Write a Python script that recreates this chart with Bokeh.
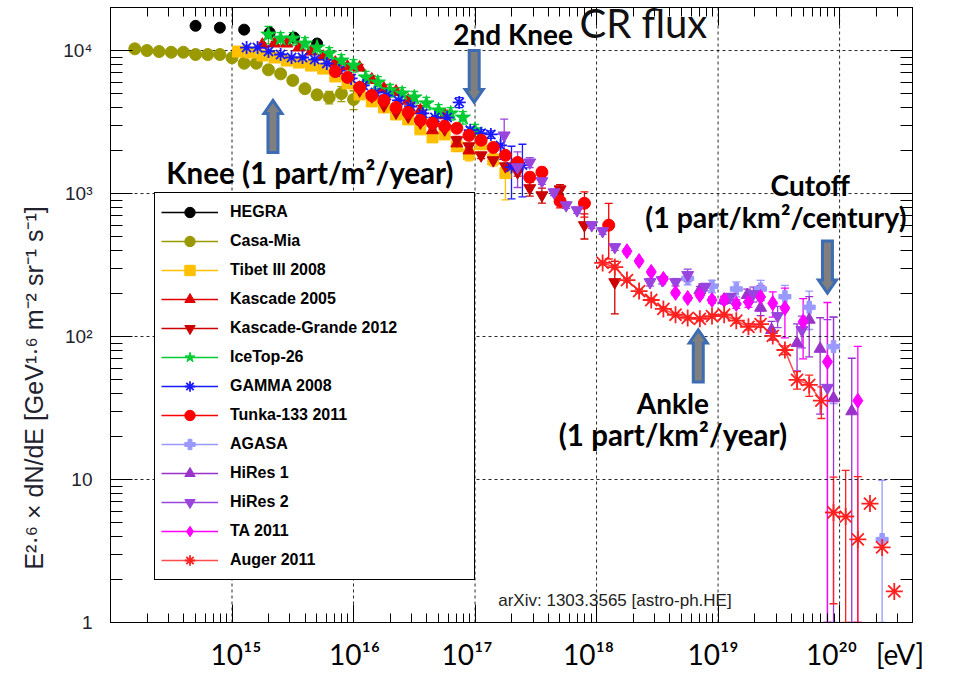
import math
from bokeh.plotting import figure
from bokeh.models import (Range1d, LogAxis, FixedTicker, Whisker, TeeHead, ColumnDataSource,
                          Legend, LegendItem, Label, CustomJSTickFormatter)
from bokeh.embed import file_html
from bokeh.resources import INLINE

# ---------------------------------------------------------------------------
# All-particle cosmic-ray spectrum, E^2.6 dN/dE  [GeV^1.6 m^-2 sr^-1 s^-1]
# energies are given as log10(E / eV)
# ---------------------------------------------------------------------------
hegra_lgE = [14.70, 14.90, 15.10, 15.31, 15.51, 15.70]
hegra_flux = [14900, 14450, 14000, 13350, 12330, 11200]
hegra_err = [0, 0, 0, 0, 0, 0]

casamia_lgE = [14.2, 14.3, 14.4, 14.5, 14.6, 14.7, 14.8, 14.9, 15.0, 15.1,
               15.2, 15.3, 15.4, 15.5, 15.6, 15.7, 15.8, 15.9, 16.0]
casamia_flux = [10280, 10000, 9840, 9730, 9730, 9380, 9380, 9380, 8890, 8150,
                8150, 7330, 6870, 6180, 5410, 4900, 4700, 5000, 4550]
casamia_err = [0, 0, 0, 0, 0, 0, 0, 0, 0, 0, 0, 0, 0, 0, 0.04, 0.075, 0.10, 0.12, 0.15]

tibet_lgE = [15.05, 15.15, 15.25, 15.35, 15.45, 15.55, 15.65, 15.75, 15.85, 15.95, 16.05, 16.15,
             16.25, 16.35, 16.45, 16.55, 16.65, 16.75, 16.85, 16.95, 17.05, 17.15, 17.25]
tibet_flux = [9840, 9680, 9230, 8940, 8510, 8240, 7850, 7480, 6590, 5890, 4930, 4410,
              4000, 3570, 3300, 2810, 2470, 2590, 2140, 1880, 2210, 1730, 1390]
tibet_err = [0.02, 0.02, 0.02, 0.02, 0.02, 0.02, 0.02, 0.02, 0.02, 0.02, 0.02, 0.02,
             0.02, 0.02, 0.02, 0.04, 0.05, 0.05, 0.08, 0.10, 0.07, 0.10, 0.35]

kascade_lgE = [15.25, 15.35, 15.45, 15.55, 15.65, 15.75, 15.85, 15.95, 16.05,
               16.15, 16.25, 16.35, 16.45, 16.55, 16.65, 16.75, 16.85, 16.95]
kascade_flux = [11000, 11190, 11190, 10490, 9840, 9080, 8240, 7720, 7610,
                6280, 5430, 5170, 4480, 3810, 2770, 3520, 2240, 2000]
kascade_err = [0.03, 0.03, 0.03, 0.03, 0.03, 0.03, 0.03, 0.03, 0.05,
               0.06, 0.06, 0.06, 0.07, 0.08, 0.10, 0.09, 0.12, 0.12]

kg_lgE = [16.05, 16.15, 16.25, 16.35, 16.45, 16.55, 16.65, 16.75, 16.85, 16.95,
          17.05, 17.15, 17.25, 17.35, 17.45, 17.55, 17.70, 17.90, 18.15]
kg_flux = [5260, 4780, 4130, 3690, 3460, 3140, 2950, 2810, 2360, 2140,
           1850, 1710, 1550, 1410, 1090, 973, 1070, 601, 240]
kg_err = [0.03, 0.03, 0.03, 0.03, 0.03, 0.03, 0.03, 0.03, 0.03, 0.03,
          0.05, 0.05, 0.05, 0.06, 0.12, 0.12, 0.08, 0.20, 0.40]

icetop_lgE = [15.3, 15.4, 15.5, 15.6, 15.7, 15.8, 15.9, 16.0, 16.1,
              16.2, 16.3, 16.4, 16.5, 16.6, 16.7, 16.8, 16.9, 17.0]
icetop_flux = [12930, 12130, 12130, 11190, 10490, 9530, 8510, 7850, 6490,
               5980, 5260, 5010, 4700, 4270, 3810, 3630, 3400, 2770]
icetop_err = [0.14, 0.10, 0.10, 0.10, 0.10, 0.10, 0.10, 0.10, 0.10,
              0.10, 0.10, 0.10, 0.10, 0.10, 0.10, 0.10, 0.10, 0.10]

gamma_lgE = [15.12, 15.21, 15.30, 15.40, 15.49, 15.58, 15.68, 15.78, 15.88, 15.98, 16.08, 16.18, 16.27,
             16.37, 16.47, 16.57, 16.67, 16.77, 16.87, 16.96, 17.05, 17.13, 17.21, 17.30, 17.39]
gamma_flux = [10490, 10490, 9840, 9380, 8940, 8940, 8650, 8110, 7240, 6380, 5700, 5090, 4850,
              4480, 4060, 3630, 3400, 3400, 4340, 2770, 2640, 2590, 2170, 1530, 1580]
gamma_err = [0.02, 0.02, 0.02, 0.02, 0.02, 0.02, 0.02, 0.02, 0.02, 0.02, 0.02, 0.02, 0.02,
             0.02, 0.02, 0.02, 0.02, 0.02, 0.08, 0.05, 0.06, 0.06, 0.20, 0.40, 0.40]

tunka_lgE = [15.85, 15.95, 16.05, 16.15, 16.25, 16.35, 16.45, 16.55, 16.65, 16.75, 16.85,
             16.95, 17.05, 17.15, 17.25, 17.35, 17.45, 17.55, 17.70, 17.90, 18.10]
tunka_flux = [7130, 6490, 5520, 4850, 4480, 4000, 3690, 3250, 3100, 2950, 2860,
              2550, 2360, 2100, 1850, 1650, 1300, 1410, 883, 855, 601]
tunka_err = [0.04, 0.04, 0.04, 0.04, 0.04, 0.04, 0.04, 0.04, 0.04, 0.04, 0.04,
             0.04, 0.04, 0.05, 0.05, 0.06, 0.08, 0.08, 0.10, 0.20, 0.42]

agasa_lgE = [18.75, 18.95, 19.15, 19.35, 19.55, 19.75, 19.95, 20.35]
agasa_flux = [255, 225, 215, 215, 190, 160, 85, 3.8]
agasa_err = [0.10, 0.10, 0.12, 0.15, 0.20, 0.30, 0.60, 1.60]

hires1_lgE = [18.85, 19.05, 19.24, 19.35, 19.44, 19.65, 19.75, 19.84, 19.95, 20.10]
hires1_flux = [211, 180, 195, 159, 111, 90, 131, 82, 37, 30]
hires1_err = [0.06, 0.06, 0.10, 0.12, 0.15, 0.36, 0.45, 0.65, 2.7, 1.35]

hires2_lgE = [17.24, 17.35, 17.45, 17.55, 17.65, 17.75, 17.84, 17.96, 18.05, 18.15,
              18.44, 18.54, 18.65, 18.75, 18.89, 19.10, 19.29, 19.49, 19.69, 19.90]
hires2_flux = [2550, 1530, 1650, 1220, 1020, 828, 764, 601, 546, 422,
               240, 248, 240, 269, 222, 189, 198, 139, 111, 43.8]
hires2_err = [0.30, 0.28, 0.08, 0.05, 0.05, 0.05, 0.05, 0.05, 0.05, 0.05,
              0.06, 0.06, 0.06, 0.10, 0.06, 0.06, 0.12, 0.17, 0.25, 2.0]

ta_lgE = [18.25, 18.35, 18.45, 18.55, 18.65, 18.75, 18.85, 18.95, 19.05,
          19.15, 19.25, 19.35, 19.45, 19.55, 19.70, 19.90, 20.15]
ta_flux = [395, 337, 283, 253, 202, 186, 195, 180, 180,
           169, 174, 189, 171, 158, 127, 66.5, 35.6]
ta_err = [0.04, 0.04, 0.04, 0.04, 0.04, 0.04, 0.04, 0.05, 0.06,
          0.07, 0.08, 0.20, 0.20, 0.38, 0.45, 1.6, 1.4]

auger_lgE = [18.05, 18.15, 18.25, 18.35, 18.45, 18.55, 18.65, 18.75, 18.85, 18.95, 19.05, 19.15, 19.25,
             19.35, 19.45, 19.55, 19.65, 19.75, 19.85, 19.95, 20.05, 20.15, 20.25, 20.35, 20.45]
auger_flux = [327, 306, 248, 208, 180, 156, 142, 135, 133, 139, 142, 129, 117,
              122, 101, 80.5, 49.8, 45.9, 35.6, 5.88, 5.51, 3.81, 6.79, 3.35, 1.65]
auger_err = [0.03, 0.03, 0.03, 0.03, 0.03, 0.03, 0.03, 0.03, 0.03, 0.03, 0.03, 0.04, 0.05,
             0.05, 0.06, 0.07, 0.14, 0.17, 0.25, 0.77, 1.1, 1.75, 0, 0, 0]
auger_joined = 19   # the Auger points up to 10^19.85 eV are joined by a line

series = [
    ("HEGRA", hegra_lgE, hegra_flux, hegra_err, "circle", "black", 11),
    ("Casa-Mia", casamia_lgE, casamia_flux, casamia_err, "circle", "#9a9a00", 12),
    ("Tibet III 2008", tibet_lgE, tibet_flux, tibet_err, "square", "#ffc000", 11),
    ("Kascade 2005", kascade_lgE, kascade_flux, kascade_err, "triangle", "#e00000", 12),
    ("Kascade-Grande 2012", kg_lgE, kg_flux, kg_err, "inverted_triangle", "#cc0000", 12),
    ("IceTop-26", icetop_lgE, icetop_flux, icetop_err, "star", "#00cc33", 16),
    ("GAMMA 2008", gamma_lgE, gamma_flux, gamma_err, "asterisk", "#1a1aff", 13),
    ("Tunka-133 2011", tunka_lgE, tunka_flux, tunka_err, "circle", "#ff0000", 12),
    ("AGASA", agasa_lgE, agasa_flux, agasa_err, "plus", "#9999ff", 12),
    ("HiRes 1", hires1_lgE, hires1_flux, hires1_err, "triangle", "#9933cc", 12),
    ("HiRes 2", hires2_lgE, hires2_flux, hires2_err, "inverted_triangle", "#9944dd", 12),
    ("TA 2011", ta_lgE, ta_flux, ta_err, "diamond", "#ff00ff", 15),
    ("Auger 2011", auger_lgE, auger_flux, auger_err, "asterisk", "#ff2020", 17),
]

# axis decades; the energy labels are set slightly off their decade (px), [eV] sits at 10^20.5
x_decades = [15, 16, 17, 18, 19, 20]
x_label_shift = [4, 1, -8, -8, -5, -8]
ev_label_lgE = 20.497
y_title = "E²·⁶ × dN/dE [GeV¹·⁶ m⁻² sr⁻¹ s⁻¹]"

# annotations: (log10 E, log10 flux) of the arrow tips, +1 = pointing up
arrows = [(15.337, 3.651, +1), (16.993, 3.637, -1), (18.837, 2.046, +1), (19.900, 2.304, -1)]

# ---------------------------------------------------------------------------
W, H = 959, 680
BL, BR, BT, BB = 110, 47, 7, 58
LGX0, LGX1 = 14.0, 20.6
LGY0, LGY1 = 0.0, math.log10(2e4)

def pw(v):
    return float(10.0 ** v)

p = figure(width=W, height=H, x_axis_type="log", y_axis_type="log",
           x_range=Range1d(pw(LGX0), pw(LGX1)), y_range=Range1d(pw(LGY0), pw(LGY1)),
           output_backend="svg", toolbar_location=None,
           min_border_left=BL, min_border_right=BR, min_border_top=BT, min_border_bottom=BB)
p.background_fill_color = "white"
p.border_fill_color = "white"
p.outline_line_color = "black"
p.outline_line_width = 1
p.xgrid.grid_line_color = None
p.ygrid.grid_line_color = None

PX_X = (W - BL - BR) / (LGX1 - LGX0)
PX_Y = (H - BT - BB) / (LGY1 - LGY0)

x_major = [pw(k) for k in range(14, 21)]
x_minor = [m * pw(k) for k in range(14, 21) for m in range(2, 10)]
y_major = [pw(k) for k in range(0, 5)]
y_minor = [m * pw(k) for k in range(0, 5) for m in range(2, 10)]
xt = FixedTicker(ticks=x_major, minor_ticks=x_minor)
yt = FixedTicker(ticks=y_major, minor_ticks=y_minor)

SUP = "const sup = ['\u2070','\u00b9','\u00b2','\u00b3','\u2074','\u2075','\u2076','\u2077','\u2078','\u2079'];"
x_fmt = CustomJSTickFormatter(code=SUP + """
const e = Math.log10(tick);
if (e > 20.3) { return '[eV]'; }
const k = Math.round(e);
return '10' + String(k).split('').map((c) => sup[+c]).join('');
""")
y_fmt = CustomJSTickFormatter(code=SUP + """
const k = Math.round(Math.log10(tick));
if (k == 0) { return '1'; }
if (k == 1) { return '10'; }
return '10' + String(k).split('').map((c) => sup[+c]).join('');
""")

def tick_axis(ax, ticker, major, minor):
    ax.ticker = ticker
    ax.major_label_text_font_size = "1px"
    ax.major_label_text_alpha = 0
    ax.major_label_standoff = 0
    ax.axis_line_color = "black"
    ax.major_tick_in = major
    ax.major_tick_out = 0
    ax.minor_tick_in = minor
    ax.minor_tick_out = 0
    ax.major_tick_line_color = "black"
    ax.minor_tick_line_color = "black"

# bottom: tick marks, then a second axis carrying the energy labels
tick_axis(p.xaxis[0], xt, 18, 9)
xlab = LogAxis(ticker=FixedTicker(ticks=[pw(k + s / PX_X) for k, s in zip(x_decades, x_label_shift)]
                                  + [pw(ev_label_lgE)], minor_ticks=[]),
               formatter=x_fmt, axis_line_color=None, major_tick_line_color=None,
               minor_tick_line_color=None, major_tick_in=0, major_tick_out=0,
               major_label_standoff=14, major_label_text_font="Lato",
               major_label_text_font_size="28px", major_label_text_color="black")
p.add_layout(xlab, "below")

# left: ticks inside and the decade labels
yax = p.yaxis[0]
yax.ticker = yt
yax.formatter = y_fmt
yax.axis_line_color = "black"
yax.major_tick_in, yax.major_tick_out = 22, 0
yax.minor_tick_in, yax.minor_tick_out = 12, 0
yax.major_label_standoff = 18
yax.major_label_text_font = "Liberation Sans"
yax.major_label_text_font_size = "19px"
yax.major_label_text_color = "#22222e"
yax.axis_label = y_title + "\u00a0" * 21
yax.axis_label_standoff = 12
yax.axis_label_text_font = "Liberation Sans"
yax.axis_label_text_font_size = "25px"
yax.axis_label_text_font_style = "normal"
yax.axis_label_text_color = "#22222e"

top_ax = LogAxis()
right_ax = LogAxis()
tick_axis(top_ax, xt, 18, 9)
tick_axis(right_ax, yt, 22, 12)
p.add_layout(top_ax, "above")
p.add_layout(right_ax, "right")

# dashed decade grid
gx = [[pw(k), pw(k)] for k in x_decades]
gy = [[pw(LGY0), pw(LGY1)] for k in x_decades]
hx = [[pw(LGX0), pw(LGX1)] for k in range(1, 5)]
hy = [[pw(k), pw(k)] for k in range(1, 5)]
p.multi_line(gx + hx, gy + hy, line_color="black", line_dash="3 3", line_width=1, line_alpha=0.85)

# data: error bars, markers, legend entries
items = []
for name, lgE, flux, err, marker, color, size in series:
    E = [pw(v) for v in lgE]
    bx, lo, hi = [], [], []
    for e, f, r in zip(E, flux, err):
        if r > 0:
            bx.append(e)
            lo.append(max(f * (1 - r), pw(LGY0)))
            hi.append(f * (1 + r))
    if bx:
        wsrc = ColumnDataSource(dict(x=bx, lo=lo, hi=hi))
        p.add_layout(Whisker(source=wsrc, base="x", lower="lo", upper="hi", dimension="height",
                             line_color=color, line_width=1.3,
                             upper_head=TeeHead(size=8, line_color=color, line_width=1.3),
                             lower_head=TeeHead(size=8, line_color=color, line_width=1.3)))
    if name == "Auger 2011":
        line_r = p.line(E[:auger_joined], flux[:auger_joined], line_color=color, line_width=1.5, line_alpha=0.8)
    else:
        # a one-point line: draws nothing in the plot but gives the legend its line
        line_r = p.line(E[:1], flux[:1], line_color=color, line_width=1.5)
    lw = 1.8 if marker == "asterisk" else 1
    sc = p.scatter(E, flux, marker=marker, size=size, fill_color=color, line_color=color, line_width=lw)
    items.append(LegendItem(label=name, renderers=[line_r, sc]))

# fat arrows marking the spectral features
for lgx, lgy, d in arrows:
    shape = [(0, 0), (9, 13), (5, 13), (5, 52), (-5, 52), (-5, 13), (-9, 13)]
    xs = [pw(lgx + dx / PX_X) for dx, dd in shape]
    ys = [pw(lgy - d * dd / PX_Y) for dx, dd in shape]
    p.patch(xs, ys, fill_color="#7f7f7f", line_color="#3d6cb3", line_width=3, line_join="miter")

# legend
legend = Legend(items=items, location=(44, 42), orientation="vertical",
                glyph_width=57, glyph_height=26, label_height=26, spacing=3, padding=6,
                label_standoff=12, label_width=238,
                label_text_font="Liberation Sans", label_text_font_style="bold",
                label_text_font_size="16px", label_text_color="black",
                border_line_color="black", border_line_width=1, border_line_alpha=1,
                background_fill_color="white", background_fill_alpha=1, margin=0)
p.add_layout(legend, "center")

# titles and feature labels (anchored at the baseline centre of each text)
def note(lgx, lgy, txt, size, bold=True, font="Lato", align="center", color="black"):
    p.add_layout(Label(x=pw(lgx), y=pw(lgy), y_offset=0.42 * size, text=txt, text_align=align,
                       text_baseline="alphabetic", text_font=font, text_font_size=f"{size}px",
                       text_color=color, text_font_style="bold" if bold else "normal"))

note(18.385, 4.077, "CR flux", 40, bold=False, color="#111111")
note(17.313, 4.035, "2nd Knee", 28)
note(15.641, 3.058, "Knee (1 part/m²/year)", 29.5)
note(19.758, 2.974, "Cutoff", 28)
note(18.628, 1.453, "Ankle", 28)
note(18.628, 1.230, "(1 part/km²/year)", 29.5)
note(17.191, 0.106, "arXiv: 1303.3565 [astro-ph.HE]", 17, bold=False, font="Liberation Sans",
     align="left", color="#222222")
# kept inside the right edge of the frame, right-aligned against it
p.add_layout(Label(x=796, y=394, x_units="screen", y_units="screen", y_offset=0.42 * 28.5,
                   text="(1 part/km²/century)", text_align="right", text_baseline="alphabetic",
                   text_font="Lato", text_font_size="28.5px", text_color="black",
                   text_font_style="bold"))

open("out.html", "w").write(file_html(p, INLINE))
